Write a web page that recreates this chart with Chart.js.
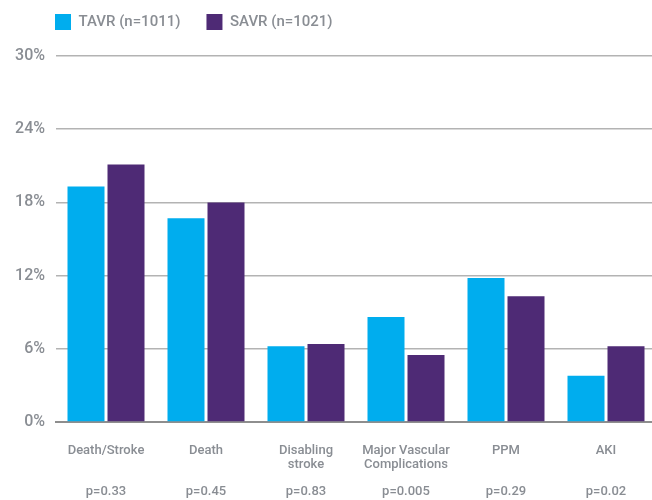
<!DOCTYPE html>
<html>
<head>
<meta charset="utf-8">
<script src="https://cdn.jsdelivr.net/npm/chart.js@4.4.1/dist/chart.umd.min.js"></script>
<style>
  html, body { margin: 0; padding: 0; background: #fff; overflow: hidden; }
  #wrap { width: 656px; height: 500px; }
</style>
</head>
<body>
<div id="wrap"><canvas id="outcomeChart"></canvas></div>
<script>
// outcomes, TAVR vs SAVR
const categories = ["Death/Stroke", "Death", ["Disabling", "stroke"], ["Major Vascular", "Complications"], "PPM", "AKI"];
const tavrValues = [19.3, 16.7, 6.2, 8.6, 11.8, 3.8];
const savrValues = [21.1, 18.0, 6.4, 5.5, 10.3, 6.2];
const pValues = ["p=0.33", "p=0.45", "p=0.83", "p=0.005", "p=0.29", "p=0.02"];
const yMin = 0, yMax = 30, yStep = 6;

const textGray = "#898d93";

// move the legend so it lines up with the plot's left edge
const legendShift = {
  id: "legendShift",
  afterLayout(chart) {
    chart.legend.left = 29;
    chart.legend.top = -12;
  }
};

const ctx = document.getElementById("outcomeChart");

new Chart(ctx, {
  type: "bar",
  data: {
    labels: categories,
    datasets: [{
      label: "TAVR (n=1011)",
      data: tavrValues,
      backgroundColor: "#00adee",
      borderWidth: 0
    }, {
      label: "SAVR (n=1021)",
      data: savrValues,
      backgroundColor: "#4e2a75",
      borderWidth: 0
    }]
  },
  options: {
    responsive: true,
    maintainAspectRatio: false,
    animation: false,
    categoryPercentage: 0.8,
    barPercentage: 0.925,
    layout: { padding: { left: 0, right: 0, top: 4, bottom: 0 } },
    plugins: {
      tooltip: { enabled: false },
      legend: {
        position: "top",
        align: "start",
        labels: {
          boxWidth: 16,
          boxHeight: 16,
          padding: 26,
          color: textGray,
          font: { family: "Roboto", size: 15, weight: "500" }
        }
      }
    },
    scales: {
      x: {
        weight: 0,
        afterFit(scale) { scale.height = 52; },
        grid: { display: false, drawTicks: false },
        border: { display: true, color: "#8e8e8e", width: 2 },
        ticks: {
          padding: 22,
          color: textGray,
          maxRotation: 0,
          autoSkip: false,
          font: { family: "Roboto", size: 13, weight: "500", lineHeight: 1.05 }
        }
      },
      p: {
        type: "category",
        labels: pValues,
        position: "bottom",
        offset: true,
        weight: 1,
        afterFit(scale) { scale.height = 26; },
        grid: { display: false, drawTicks: false },
        border: { display: false },
        ticks: {
          padding: 11,
          color: textGray,
          maxRotation: 0,
          autoSkip: false,
          font: { family: "Roboto", size: 13, weight: "500", lineHeight: 1.05 }
        }
      },
      y: {
        min: yMin,
        max: yMax,
        afterFit(scale) { scale.width = 56; },
        grid: { color: "#b3b3b3", lineWidth: 1.5, drawTicks: false },
        border: { display: false },
        ticks: {
          stepSize: yStep,
          padding: 11,
          color: textGray,
          font: { family: "Roboto", size: 16, weight: "500" },
          callback: (v) => v + "%"
        }
      }
    }
  },
  plugins: [legendShift]
});
</script>
</body>
</html>
